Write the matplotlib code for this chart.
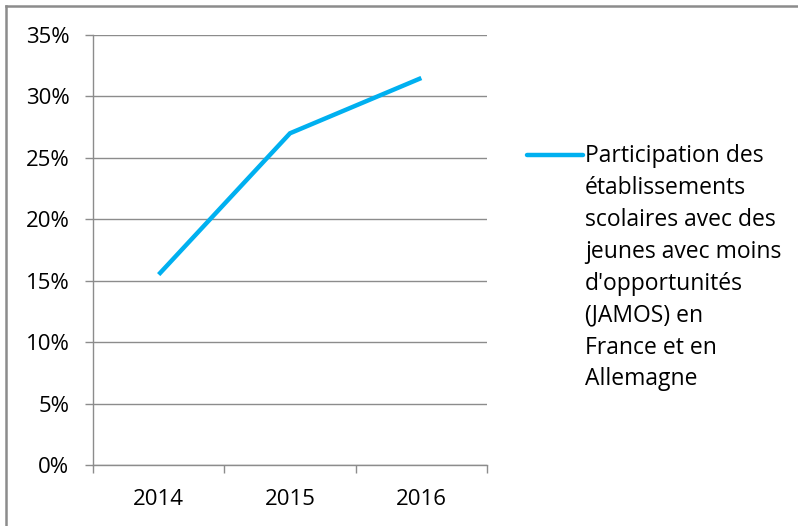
import matplotlib.pyplot as plt
from matplotlib.lines import Line2D
from matplotlib.ticker import FixedLocator

years = ['2014', '2015', '2016']
values = [15.5, 27.0, 31.5]
y_ticks = [0, 5, 10, 15, 20, 25, 30, 35]
series_label = ("Participation des\nétablissements\nscolaires avec des\n"
                "jeunes avec moins\nd'opportunités\n(JAMOS) en\nFrance et en\nAllemagne")

plt.rcParams['font.family'] = ['Open Sans', 'DejaVu Sans']
grey = '#8c8c8c'
blue = '#00b0f0'

fig = plt.figure(figsize=(7.98, 5.26), dpi=100)
W, H = 798, 526
ax = fig.add_axes([93 / W, 1 - 465 / H, (487 - 93) / W, (465 - 35) / H])

x = range(len(years))
ax.plot(x, values, color=blue, lw=3.2, solid_capstyle='butt', solid_joinstyle='miter')

ax.set_xlim(-0.5, len(years) - 0.5)
ax.set_ylim(0, 35)
ax.set_yticks(y_ticks)
ax.set_yticklabels([f'{t}%' for t in y_ticks])
ax.set_xticks(list(x))
ax.set_xticklabels(years)
ax.xaxis.set_minor_locator(FixedLocator([i - 0.5 for i in range(len(years) + 1)]))
ax.tick_params(axis='x', which='major', length=0, pad=17)
ax.tick_params(axis='x', which='minor', length=6, color=grey, width=1)
ax.tick_params(axis='y', length=6, color=grey, width=1, pad=11)
ax.tick_params(labelsize=16, labelcolor='black')

ax.grid(axis='y', color=grey, lw=1)
ax.set_axisbelow(True)
for s in ['top', 'right']:
    ax.spines[s].set_visible(False)
for s in ['left', 'bottom']:
    ax.spines[s].set_color(grey)
    ax.spines[s].set_linewidth(1)

# legend drawn by hand so the marker sits on the first line
fig.add_artist(Line2D([527 / W, 583 / W], [1 - 155 / H, 1 - 155 / H], color=blue, lw=3.2,
                      solid_capstyle='round'))
fig.text(585 / W, 1 - 144 / H, series_label, fontsize=16.5, va='top', ha='left',
         linespacing=1.44)

# outer frame (only top and left visible in the crop)
fig.add_artist(Line2D([6 / W, 6 / W], [0, 1 - 6 / H], color=grey, lw=1.8))
fig.add_artist(Line2D([6 / W, 797 / W], [1 - 6 / H, 1 - 6 / H], color=grey, lw=1.8))

fig.savefig('out.png', dpi=100)
